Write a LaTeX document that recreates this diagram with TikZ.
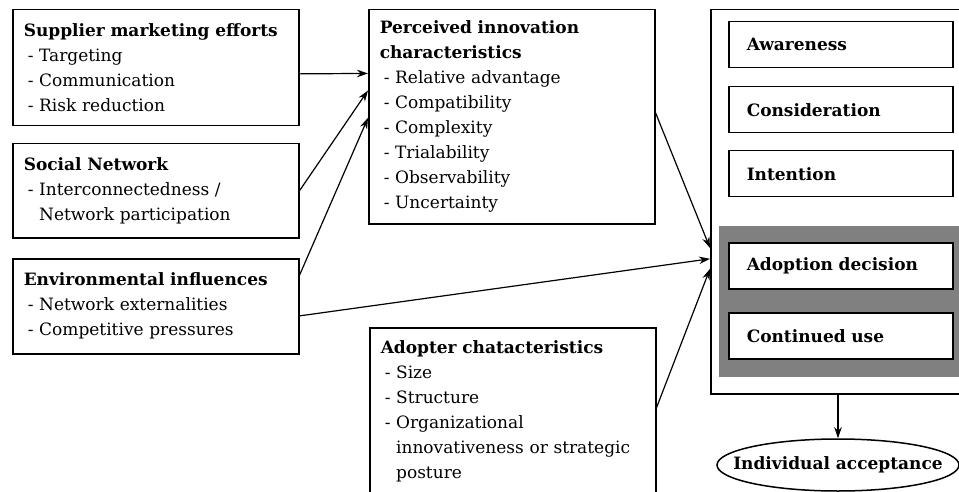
\documentclass[tikz,border=0pt]{standalone}
\usepackage{fontspec}
\setmainfont{DejaVu Serif}
\usepackage{tikz}
\usetikzlibrary{arrows.meta,calc,shapes.geometric}
\newcommand{\arw}{-{Stealth[length=11pt,width=7.5pt]}}
\newcommand{\itm}[1]{\hspace*{4pt}- #1}
\newcommand{\cnt}[1]{\hspace*{4pt}\phantom{- }#1}

\begin{document}
\begin{tikzpicture}[x=1pt,y=-1pt,
  box/.style={draw,line width=1.5pt,anchor=north west,align=left,inner xsep=11pt,inner ysep=0pt,
    text width=264pt,font=\fontsize{17}{25}\selectfont},
  stage/.style={draw,line width=1.5pt,fill=white,anchor=north west,align=left,inner xsep=18pt,inner ysep=0pt,
    text width=188pt,minimum height=46pt,font=\bfseries\fontsize{17}{25}\selectfont}]
\useasboundingbox (0,0) rectangle (959,492);
%influences
\node[box,minimum height=116pt] (sup) at (12,9) {\textbf{Supplier marketing efforts}\\
  \itm{Targeting}\\ \itm{Communication}\\ \itm{Risk reduction}};
\node[box,minimum height=94pt] (soc) at (12,143) {\textbf{Social Network}\\
  \itm{Interconnectedness /}\\ \cnt{Network participation}};
\node[box,minimum height=95pt] (env) at (12,258) {\textbf{Environmental influences}\\
  \itm{Network externalities}\\ \itm{Competitive pressures}};
\node[box,minimum height=214pt] (pic) at (368,9) {\textbf{Perceived innovation}\\ \textbf{characteristics}\\
  \itm{Relative advantage}\\ \itm{Compatibility}\\ \itm{Complexity}\\
  \itm{Trialability}\\ \itm{Observability}\\ \itm{Uncertainty}};
\node[box,minimum height=167pt] (ado) at (369,327) {\textbf{Adopter chatacteristics}\\
  \itm{Size}\\ \itm{Structure}\\ \itm{Organizational}\\
  \cnt{innovativeness or strategic}\\ \cnt{posture}};
%acceptance process
\node[draw,line width=1.5pt,anchor=north west,inner sep=0pt,minimum width=260pt,minimum height=384pt] (proc) at (710,9) {};
\node[fill=black!50,anchor=north west,inner sep=0pt,minimum width=250pt,minimum height=151pt] (grey) at (719,226) {};
\node[stage] (awa) at (728,21) {Awareness};
\node[stage] (con) at (728,86) {Consideration};
\node[stage] (int) at (728,150) {Intention};
\node[stage] (dec) at (728,242) {Adoption decision};
\node[stage] (use) at (728,312) {Continued use};
\node[draw,ellipse,line width=1.5pt,inner sep=0pt,minimum width=242pt,minimum height=52pt] (acc) at (838,465) {};
\node[font=\bfseries\fontsize{17}{25}\selectfont] (acctxt) at (acc.center) {Individual acceptance};
%arrows
\draw[\arw,line width=1.2pt] ($(sup.north east)!0.552!(sup.south east)$) -- ($(pic.north west)!0.299!(pic.south west)$);
\draw[\arw,line width=1.2pt] (soc.east) -- ($(pic.north west)!0.378!(pic.south west)$);
\draw[\arw,line width=1.2pt] ($(env.north east)!0.179!(env.south east)$) -- ($(pic.north west)!0.505!(pic.south west)$);
\draw[\arw,line width=1.2pt] ($(env.north east)!0.6!(env.south east)$) -- ($(proc.north west)!0.648!(proc.south west)$);
\draw[\arw,line width=1.2pt] ($(pic.north east)!0.481!(pic.south east)$) -- ($(proc.north west)!0.62!(proc.south west)$);
\draw[\arw,line width=1.2pt] ($(ado.north east)!0.479!(ado.south east)$) -- ($(proc.north west)!0.674!(proc.south west)$);
\draw[\arw,line width=1.2pt] (acc.north |- proc.south) -- (acc.north);
\end{tikzpicture}
\end{document}
